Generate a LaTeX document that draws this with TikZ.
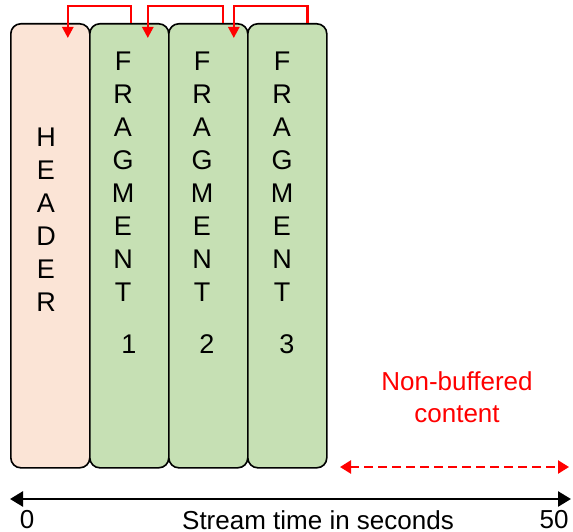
\documentclass[tikz,border=0pt]{standalone}
\usepackage{fontspec}
\setmainfont{Liberation Sans}
\usepackage{tikz}
\usetikzlibrary{positioning}
\usetikzlibrary{arrows.meta}

\definecolor{hdrfill}{RGB}{251,228,214}
\definecolor{fragfill}{RGB}{198,224,180}

\begin{document}
\begin{tikzpicture}[x=1pt,y=-1pt,node distance=-1.6pt,
                    block/.style={rectangle,rounded corners=10pt,draw,line width=1.6pt,
                                  minimum width=79pt,minimum height=444pt,inner sep=0pt},
                    letters/.style={align=center,font=\fontsize{27}{33}\selectfont},
                    jump/.style={red,line width=2.4pt,-{Triangle[length=11pt,width=11pt]}},
                    timeline/.style={line width=2.6pt,{Triangle[length=13pt,width=15pt]}-{Triangle[length=13pt,width=15pt]}}]

  \useasboundingbox (0,0) rectangle (573,532);

  % header and fragments side by side
  \node[block,fill=hdrfill,anchor=north west] (hdr) at (10,23) {};
  \node[block,fill=fragfill] (f1) [right=of hdr] {};
  \node[block,fill=fragfill] (f2) [right=of f1] {};
  \node[block,fill=fragfill] (f3) [right=of f2] {};

  \node[letters] (hdrtxt) at (46,220) {H\\E\\A\\D\\E\\R};
  \node[letters,anchor=north] (f1txt) at (123,48) {F\\R\\A\\G\\M\\E\\N\\T\\[19pt]\hspace*{12pt}1};
  \node[letters,anchor=north] (f2txt) at (202,48) {F\\R\\A\\G\\M\\E\\N\\T\\[19pt]\hspace*{10pt}2};
  \node[letters,anchor=north] (f3txt) at (282,48) {F\\R\\A\\G\\M\\E\\N\\T\\[19pt]\hspace*{10pt}3};

  % links back to the previous block
  \draw[jump] ([xshift=1.5pt]f1.north) -- ++(0,-17) -| ([xshift=17.5pt,yshift=-15pt]hdr.north);
  \draw[jump] ([xshift=14.5pt]f2.north) -- ++(0,-17) -| ([xshift=18.5pt,yshift=-15pt]f1.north);
  \draw[jump] ([xshift=20pt]f3.north) -- ++(0,-17) -| ([xshift=25.5pt,yshift=-15pt]f2.north);

  % not yet buffered
  \coordinate (nbl) at (340,467);
  \coordinate (nbr) at (569,467);
  \draw[red,line width=2.4pt,dash pattern=on 9pt off 5pt,
        {Triangle[length=11pt,width=13pt]}-{Triangle[length=11pt,width=13pt]}] (nbl) -- (nbr);
  \node[red,align=center,font=\fontsize{26}{32}\selectfont] (nbtxt) at (457,397) {Non-buffered\\content};

  % time axis
  \coordinate (t0) at (10,499);
  \coordinate (t50) at (571,499);
  \draw[timeline] (t0) -- (t50);
  \node[font=\fontsize{26}{28}\selectfont] (zero) at (27,520) {0};
  \node[font=\fontsize{26}{28}\selectfont] (fifty) at (554,520) {50};
  \node[font=\fontsize{26}{28}\selectfont] (axtxt) at (318,520) {Stream time in seconds};
\end{tikzpicture}
\end{document}
